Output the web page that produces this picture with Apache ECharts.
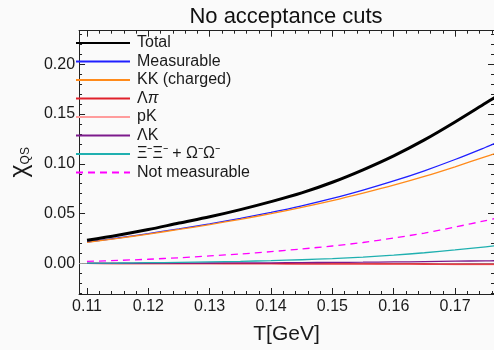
<!DOCTYPE html>
<html>
<head>
<meta charset="utf-8">
<script src="https://cdn.jsdelivr.net/npm/echarts@6/dist/echarts.min.js"></script>
<style>
  html, body { margin: 0; padding: 0; background: #fafafa; }
  #chart { width: 494px; height: 350px; }
</style>
</head>
<body>
<div id="chart"></div>
<script>
// Temperature grid (GeV)
const T = [0.110, 0.115, 0.120, 0.125, 0.130, 0.135, 0.140, 0.145, 0.150, 0.155, 0.160, 0.165, 0.170, 0.175, 0.1765];

// chi_QS contributions
const total      = [0.0233, 0.0283, 0.0340, 0.0405, 0.0468, 0.0540, 0.0620, 0.0708, 0.0815, 0.0940, 0.1080, 0.1240, 0.1420, 0.1610, 0.1667];
const measurable = [0.0215, 0.0255, 0.0300, 0.0347, 0.0397, 0.0452, 0.0512, 0.0578, 0.0652, 0.0736, 0.0828, 0.0930, 0.1043, 0.1166, 0.1205];
const kkCharged  = [0.0212, 0.0251, 0.0295, 0.0341, 0.0390, 0.0443, 0.0500, 0.0562, 0.0630, 0.0705, 0.0785, 0.0873, 0.0970, 0.1072, 0.1102];
const lambdaPi   = [0.0000, -0.0001, -0.0001, -0.0002, -0.0002, -0.0003, -0.0003, -0.0004, -0.0004, -0.0005, -0.0005, -0.0006, -0.0007, -0.0008, -0.0008];
const pK         = [0.0000, -0.0001, -0.0002, -0.0002, -0.0003, -0.0004, -0.0005, -0.0006, -0.0007, -0.0008, -0.0009, -0.0010, -0.0011, -0.0013, -0.0013];
const lambdaK    = [0.0001, 0.0001, 0.0002, 0.0003, 0.0004, 0.0005, 0.0006, 0.0008, 0.0010, 0.0012, 0.0015, 0.0018, 0.0022, 0.0026, 0.0027];
const xiOmega    = [0.0002, 0.0004, 0.0007, 0.0011, 0.0016, 0.0021, 0.0028, 0.0037, 0.0048, 0.0063, 0.0083, 0.0107, 0.0135, 0.0167, 0.0177];
const notMeas    = [0.0020, 0.0030, 0.0042, 0.0057, 0.0075, 0.0095, 0.0118, 0.0145, 0.0175, 0.0210, 0.0255, 0.0305, 0.0365, 0.0430, 0.0450];

// Axis ticks
const xMajor = [0.11, 0.12, 0.13, 0.14, 0.15, 0.16, 0.17];
const yMajor = [0.00, 0.05, 0.10, 0.15, 0.20];
const xMinor = [];
for (let i = 0; i <= 34; i++) xMinor.push(+(0.108 + i * 0.002).toFixed(3));
const yMinor = [];
for (let i = -3; i <= 23; i++) yMinor.push(+(i * 0.01).toFixed(2));

const X_MIN = 0.1087, X_MAX = 0.17635;
const Y_MIN = -0.0307, Y_MAX = 0.2336;

const FONT = 'Liberation Sans, Arial, Helvetica, sans-serif';
const FRAME = '#222';
const INK = '#1a1a1a';

function pairs(ys) { return T.map((t, i) => [t, ys[i]]); }

function xAx(pos, ticks, len, labels, line) {
  return {
    type: 'value', position: pos, min: X_MIN, max: X_MAX,
    axisLine: { show: line, onZero: false, lineStyle: { color: FRAME, width: 1 } },
    axisTick: { show: true, inside: true, length: len, customValues: ticks, lineStyle: { color: FRAME } },
    axisLabel: labels ? {
      show: true, margin: 5, customValues: xMajor, color: INK, fontSize: 16, fontFamily: FONT,
      formatter: v => v.toFixed(2)
    } : { show: false },
    splitLine: { show: false }
  };
}
function yAx(pos, ticks, len, labels, line) {
  return {
    type: 'value', position: pos, min: Y_MIN, max: Y_MAX,
    axisLine: { show: line, onZero: false, lineStyle: { color: FRAME, width: 1 } },
    axisTick: { show: true, inside: true, length: len, customValues: ticks, lineStyle: { color: FRAME } },
    axisLabel: labels ? {
      show: true, margin: 4, customValues: yMajor, color: INK, fontSize: 16, fontFamily: FONT,
      formatter: v => v.toFixed(2)
    } : { show: false },
    splitLine: { show: false }
  };
}

const xAxes = [
  xAx('bottom', xMajor, 6, true, true),
  xAx('bottom', xMinor, 3, false, false),
  xAx('top', xMajor, 6, false, true),
  xAx('top', xMinor, 3, false, false)
];
xAxes[0].name = 'T[GeV]';
xAxes[0].nameLocation = 'middle';
xAxes[0].nameGap = 30;
xAxes[0].nameTextStyle = { fontSize: 21, color: INK, fontFamily: FONT };

const yAxes = [
  yAx('left', yMajor, 6, true, true),
  yAx('left', yMinor, 3, false, false),
  yAx('right', yMajor, 6, false, true),
  yAx('right', yMinor, 3, false, false)
];
yAxes[0].name = '{c|χ}{s|QS}';
yAxes[0].nameLocation = 'middle';
yAxes[0].nameGap = 46;
yAxes[0].nameTextStyle = {
  fontFamily: FONT, color: INK,
  rich: {
    c: { fontSize: 25, fontFamily: FONT, color: INK },
    s: { fontSize: 12, fontFamily: FONT, color: INK, padding: [10, 0, 0, 0] }
  }
};

function line(name, ys, color, width, dashed, z) {
  return {
    name, type: 'line', data: pairs(ys), xAxisIndex: 0, yAxisIndex: 0,
    symbol: 'none', smooth: 0.3, clip: true, z: z,
    lineStyle: { color, width, type: dashed ? [7, 5] : 'solid' },
    itemStyle: { color }
  };
}

const series = [
  line('Total', total, '#000000', 3, false, 10),
  line('Measurable', measurable, '#1f1fff', 1.3, false, 6),
  line('KK (charged)', kkCharged, '#ff8a1a', 1.3, false, 7),
  line('Λπ', lambdaPi, '#e0202a', 1.3, false, 5),
  line('pK', pK, '#ff9c9c', 1.3, false, 4),
  line('ΛK', lambdaK, '#7d1a8c', 1.3, false, 5),
  line('Ξ⁻Ξ⁻ + Ω⁻Ω⁻', xiOmega, '#1fb0b0', 1.3, false, 5),
  line('Not measurable', notMeas, '#ff00ff', 1.3, true, 5)
];
// zero reference line
series[0].markLine = {
  silent: true, symbol: 'none', label: { show: false }, z: 1,
  lineStyle: { color: '#9a9a9a', width: 1, type: 'solid' },
  data: [{ yAxis: 0 }]
};

const chart = echarts.init(document.getElementById('chart'), null, { renderer: 'canvas' });
chart.setOption({
  backgroundColor: '#fafafa',
  animation: false,
  title: {
    text: 'No acceptance cuts', left: 281, top: 1, textAlign: 'center',
    textStyle: { fontSize: 22, fontWeight: 'normal', color: '#111', fontFamily: FONT }
  },
  grid: { left: 67.5, top: 30.7, right: -1, bottom: 55, containLabel: false },
  legend: {
    orient: 'vertical', left: 75, top: 35, padding: 0,
    itemWidth: 54, itemHeight: 10, itemGap: 2.5,
    selectedMode: false,
    itemStyle: { opacity: 0 },
    textStyle: {
      fontSize: 16, fontFamily: FONT, color: INK, lineHeight: 16, padding: [0, 0, 0, 2],
      rich: { i: { fontStyle: 'italic', fontSize: 16, fontFamily: FONT, color: INK } }
    },
    formatter: n => n === 'Λπ' ? 'Λ{i|π}' : n,
    data: series.map(s => s.name)
  },
  xAxis: xAxes,
  yAxis: yAxes,
  series
});
</script>
</body>
</html>
